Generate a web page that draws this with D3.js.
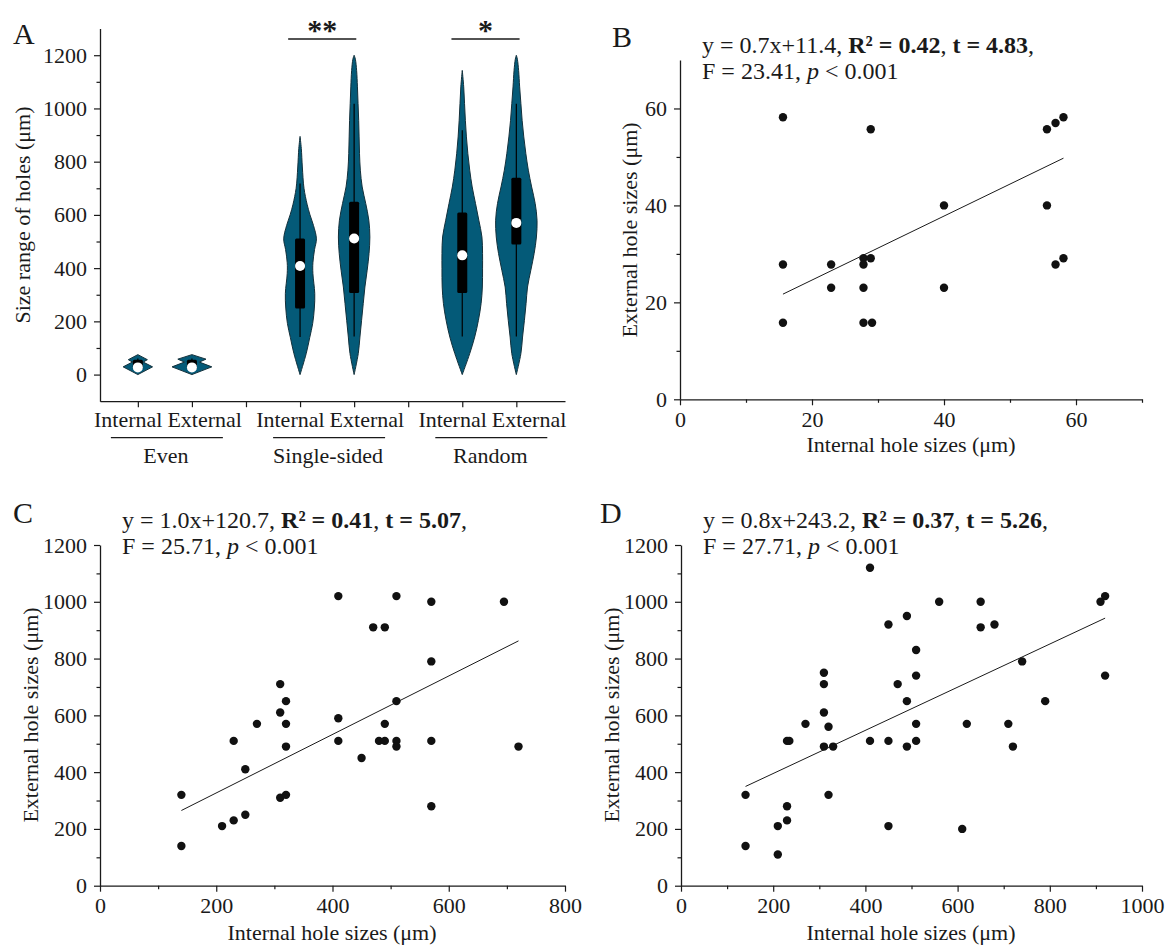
<!DOCTYPE html>
<html>
<head>
<meta charset="utf-8">
<script src="https://cdnjs.cloudflare.com/ajax/libs/d3/7.8.5/d3.min.js"></script>
<style>
  body { margin: 0; background: white; }
  svg text { font-family: "Liberation Serif", "Times New Roman", serif; fill: #1a1a1a; }
</style>
</head>
<body>
<div id="chart"></div>
<script>

//Panel A categories
let groups = ["Even", "Single-sided", "Random"];
let sides = ["Internal", "External"];
let violinPos = [1, 2, 4, 5, 7, 8];
let separatorPos = [3, 6];

//Violin outlines: value (um) and relative density
let violinValues = [
  [0, 29, 47, 56, 75],
  [0, 29, 47, 58, 75],
  [0, 80, 140, 192, 250, 305, 380, 420, 470, 510, 560, 600, 640, 700, 780, 850, 895],
  [0, 79, 141, 204, 267, 329, 392, 455, 517, 580, 643, 705, 768, 830, 893, 955, 1018, 1081, 1143, 1185, 1200],
  [0, 79, 141, 204, 267, 329, 400, 455, 517, 580, 643, 705, 768, 830, 893, 955, 1018, 1081, 1143],
  [0, 79, 141, 204, 267, 329, 392, 455, 517, 580, 643, 705, 768, 830, 893, 955, 1018, 1081, 1143, 1185, 1200]
];
let violinDensity = [
  [0, 0.71, 0.26, 0.46, 0],
  [0, 0.96, 0.36, 0.68, 0],
  [0, 0.30, 0.47, 0.61, 0.69, 0.71, 0.62, 0.62, 0.70, 0.79, 0.65, 0.48, 0.34, 0.19, 0.11, 0.06, 0],
  [0, 0.20, 0.28, 0.36, 0.44, 0.52, 0.63, 0.72, 0.76, 0.71, 0.56, 0.39, 0.30, 0.26, 0.24, 0.22, 0.19, 0.16, 0.12, 0.06, 0],
  [0, 0.36, 0.60, 0.78, 0.91, 0.97, 0.98, 0.98, 0.95, 0.80, 0.64, 0.48, 0.36, 0.27, 0.20, 0.15, 0.11, 0.07, 0],
  [0, 0.22, 0.30, 0.39, 0.47, 0.54, 0.70, 0.86, 0.97, 1.00, 0.91, 0.74, 0.58, 0.46, 0.36, 0.28, 0.22, 0.16, 0.11, 0.05, 0]
];

//Box statistics
let q1 = [20, 20, 248, 307, 307, 489];
let q3 = [56, 56, 511, 649, 609, 740];
let medians = [27, 27, 408, 511, 448, 570];
let whiskerLow = [10, 10, 141, 143, 143, 143];
let whiskerHigh = [60, 60, 718, 1018, 918, 1018];

//Significance marks
let sigFrom = [3.78, 6.8];
let sigTo = [5.04, 8.06];
let sigLabel = ["**", "*"];

//Panel B
let bInternal = [15.6, 28.9, 15.6, 15.6, 22.9, 22.9, 27.8, 27.8, 28.9, 27.8, 27.8, 29.1, 40, 40, 55.6, 56.9, 58.1, 55.6, 56.9, 58.1];
let bExternal = [58.2, 55.7, 27.8, 15.8, 27.8, 23.0, 29.1, 27.8, 29.1, 23.0, 15.8, 15.8, 40, 23, 55.7, 57.0, 58.2, 40, 27.8, 29.1];

//Panel C
let cInternal = [140, 140, 210, 230, 230, 250, 250, 270, 310, 310, 310, 320, 320, 320, 320, 410, 410, 410, 450, 470, 490, 480, 490, 490, 510, 510, 510, 510, 570, 570, 570, 570, 695, 720];
let cExternal = [320, 140, 210, 230, 510, 250, 410, 570, 710, 610, 310, 320, 650, 570, 490, 1020, 590, 510, 450, 910, 910, 510, 510, 570, 1020, 650, 510, 490, 1000, 790, 510, 280, 1000, 490];

//Panel D
let dInternal = [140, 140, 210, 210, 230, 230, 230, 235, 270, 310, 310, 310, 310, 320, 320, 330, 410, 410, 450, 450, 450, 470, 490, 490, 490, 510, 510, 510, 510, 560, 610, 620, 650, 650, 680, 710, 720, 740, 790, 910, 920, 920];
let dExternal = [320, 140, 210, 110, 230, 280, 510, 510, 570, 750, 710, 610, 490, 560, 320, 490, 1120, 510, 920, 510, 210, 710, 950, 650, 490, 830, 740, 570, 510, 1000, 200, 570, 1000, 910, 920, 570, 490, 790, 650, 1000, 1020, 740];

//Fit lines and printed statistics
let fitSlope = [0.66, 1.03, 0.76];
let fitIntercept = [11.4, 120.7, 243.2];
let statEq = ["0.7x+11.4", "1.0x+120.7", "0.8x+243.2"];
let statR2 = ["0.42", "0.41", "0.37"];
let statT = ["4.83", "5.07", "5.26"];
let statF = ["23.41", "25.71", "27.71"];

//Width and Height
let width = 1166;
let height = 949;
let ink = "#1a1a1a";
let violinFill = "#045a78";
let serif = "Liberation Serif, Times New Roman, serif";

let svg = d3.select("#chart")
  .append("svg")
  .attr("width", width)
  .attr("height", height);

svg.append("rect").attr("width", width).attr("height", height).attr("fill", "white");

//Axis helper: minor ticks first, then major ticks with labels
function addAxis(scale, side, at, majors, minors, showLabels) {
  let axisFn = side == "left" ? d3.axisLeft : d3.axisBottom;
  let tr = side == "left" ? "translate(" + at + ",0)" : "translate(0," + at + ")";

  let minor = svg.append("g")
    .attr("transform", tr)
    .call(axisFn(scale).tickValues(minors).tickSize(3.5).tickSizeOuter(0).tickFormat(""));
  minor.select(".domain").remove();
  minor.selectAll("line").attr("stroke", ink).attr("stroke-width", 1.2);

  let major = svg.append("g")
    .attr("transform", tr)
    .attr("font-family", serif)
    .call(axisFn(scale).tickValues(majors).tickSize(6).tickSizeOuter(0)
      .tickPadding(side == "left" ? 7 : 6)
      .tickFormat(showLabels ? d3.format("d") : ""));
  major.select(".domain").attr("stroke", ink).attr("stroke-width", 1.3);
  major.selectAll("line").attr("stroke", ink).attr("stroke-width", 1.2);
  major.selectAll("text").attr("fill", ink).style("font-size", "22px");
  return major;
}

function axisTitle(text, x, y, rotate) {
  svg.append("text")
    .attr("transform", "translate(" + x + "," + y + ")" + (rotate ? " rotate(-90)" : ""))
    .attr("text-anchor", "middle")
    .style("font-size", "22px")
    .text(text);
}

function panelLetter(letter, x, y) {
  svg.append("text").attr("x", x).attr("y", y).style("font-size", "30px").text(letter);
}

// ---------------- Panel A ----------------
let xA = d3.scaleLinear().domain([0.3, 8.9]).range([100, 565]);
let yA = d3.scaleLinear().domain([-100, 1300]).range([401.2, 28.6]);
let wA = d3.scaleLinear().domain([0, 1]).range([0, 20.7]);

addAxis(yA, "left", xA.range()[0], d3.range(0, 1201, 200), d3.range(100, 1101, 200), true);
addAxis(xA, "bottom", yA.range()[0], violinPos.concat(separatorPos), [], false);

//Violins
violinPos.forEach(function(p, i) {
  let cx = xA(p);
  let pts = violinValues[i].map((v, j) => [v, violinDensity[i][j]]);
  let area = d3.area()
    .y(d => yA(d[0]))
    .x0(d => cx - wA(d[1]))
    .x1(d => cx + wA(d[1]))
    .curve(i < 2 ? d3.curveLinear : d3.curveCatmullRom);

  svg.append("path")
    .attr("d", area(pts))
    .attr("fill", violinFill)
    .attr("stroke", "#13303b")
    .attr("stroke-width", 1);

  svg.append("line")
    .attr("x1", cx).attr("x2", cx)
    .attr("y1", yA(whiskerLow[i])).attr("y2", yA(whiskerHigh[i]))
    .attr("stroke", "black").attr("stroke-width", 1.2);

  svg.append("rect")
    .attr("x", cx - 5).attr("width", 10)
    .attr("y", yA(q3[i])).attr("height", yA(q1[i]) - yA(q3[i]))
    .attr("rx", 1.5)
    .attr("fill", "black");

  svg.append("circle")
    .attr("cx", cx).attr("cy", yA(medians[i]))
    .attr("r", 5)
    .attr("fill", "white");
});

//Category labels under the axis
groups.forEach(function(g, k) {
  let gc = (xA(violinPos[2 * k]) + xA(violinPos[2 * k + 1])) / 2;
  svg.append("text").attr("x", gc - 2.5).attr("y", 427).attr("text-anchor", "end")
    .style("font-size", "22px").text(sides[0]);
  svg.append("text").attr("x", gc + 2.5).attr("y", 427).attr("text-anchor", "start")
    .style("font-size", "22px").text(sides[1]);
  svg.append("line")
    .attr("x1", gc - 54).attr("x2", gc + 58)
    .attr("y1", 437.7).attr("y2", 437.7)
    .attr("stroke", ink).attr("stroke-width", 1.3);
  svg.append("text").attr("x", gc + 1).attr("y", 463).attr("text-anchor", "middle")
    .style("font-size", "22px").text(g);
});

//Significance bars
sigLabel.forEach(function(s, k) {
  svg.append("line")
    .attr("x1", xA(sigFrom[k])).attr("x2", xA(sigTo[k]))
    .attr("y1", 39).attr("y2", 39)
    .attr("stroke", ink).attr("stroke-width", 1.3);
  svg.append("text")
    .attr("x", (xA(sigFrom[k]) + xA(sigTo[k])) / 2).attr("y", 40)
    .attr("text-anchor", "middle")
    .attr("font-weight", "bold")
    .style("font-size", "30px")
    .text(s);
});

axisTitle("Size range of holes (μm)", 30, 215, true);
panelLetter("A", 13, 44);

// ---------------- Scatter panels ----------------
function addStats(k, x0, y1, y2) {
  let t1 = svg.append("text").attr("x", x0).attr("y", y1).style("font-size", "24px");
  t1.append("tspan").text("y = " + statEq[k] + ", ");
  t1.append("tspan").attr("font-weight", "bold").text("R² = " + statR2[k]);
  t1.append("tspan").text(", ");
  t1.append("tspan").attr("font-weight", "bold").text("t = " + statT[k]);
  t1.append("tspan").text(",");

  let t2 = svg.append("text").attr("x", x0).attr("y", y2).style("font-size", "24px");
  t2.append("tspan").text("F = " + statF[k] + ", ");
  t2.append("tspan").attr("font-style", "italic").text("p");
  t2.append("tspan").text(" < 0.001");
}

function scatterPanel(k, xs, ys, xScale, yScale) {
  let pts = xs.map((v, i) => [v, ys[i]]);
  let ext = d3.extent(xs);
  let fit = ext.map(v => [v, fitSlope[k] * v + fitIntercept[k]]);

  svg.append("path")
    .attr("d", d3.line().x(d => xScale(d[0])).y(d => yScale(d[1]))(fit))
    .attr("fill", "none")
    .attr("stroke", ink)
    .attr("stroke-width", 1);

  svg.append("g")
    .selectAll("circle")
    .data(pts)
    .enter()
    .append("circle")
    .attr("cx", d => xScale(d[0]))
    .attr("cy", d => yScale(d[1]))
    .attr("r", 4.2)
    .attr("fill", "#111");
}

//Panel B
let xB = d3.scaleLinear().domain([0, 70]).range([680, 1142]);
let yB = d3.scaleLinear().domain([0, 70]).range([399.3, 60]);
addAxis(yB, "left", 680, [0, 20, 40, 60], [10, 30, 50], true);
addAxis(xB, "bottom", 399.3, [0, 20, 40, 60], [10, 30, 50, 70], true);
scatterPanel(0, bInternal, bExternal, xB, yB);
addStats(0, 702, 53, 79);
axisTitle("External hole sizes (μm)", 637, 230, true);
axisTitle("Internal hole sizes (μm)", 911, 452, false);
panelLetter("B", 612, 47);

//Panel C
let xC = d3.scaleLinear().domain([0, 800]).range([100, 565]);
let yC = d3.scaleLinear().domain([0, 1200]).range([885.7, 545]);
addAxis(yC, "left", 100, d3.range(0, 1201, 200), d3.range(100, 1101, 200), true);
addAxis(xC, "bottom", 885.7, d3.range(0, 801, 200), d3.range(100, 701, 200), true);
scatterPanel(1, cInternal, cExternal, xC, yC);
addStats(1, 122, 528, 554);
axisTitle("External hole sizes (μm)", 38, 715, true);
axisTitle("Internal hole sizes (μm)", 332, 940, false);
panelLetter("C", 13, 523);

//Panel D
let xD = d3.scaleLinear().domain([0, 1000]).range([681, 1142]);
let yD = d3.scaleLinear().domain([0, 1200]).range([885.7, 545]);
addAxis(yD, "left", 681, d3.range(0, 1201, 200), d3.range(100, 1101, 200), true);
addAxis(xD, "bottom", 885.7, d3.range(0, 1001, 200), d3.range(100, 901, 200), true);
scatterPanel(2, dInternal, dExternal, xD, yD);
addStats(2, 703, 528, 554);
axisTitle("External hole sizes (μm)", 619, 715, true);
axisTitle("Internal hole sizes (μm)", 911, 940, false);
panelLetter("D", 600, 523);

</script>
</body>
</html>
